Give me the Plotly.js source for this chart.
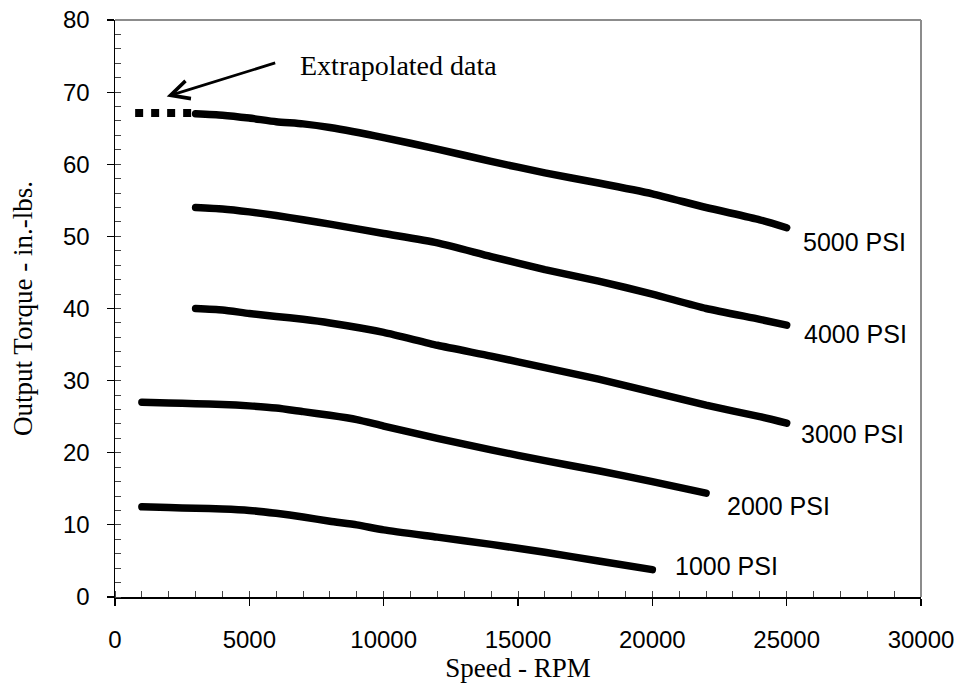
<!DOCTYPE html>
<html>
<head>
<meta charset="utf-8">
<script src="https://cdn.plot.ly/plotly-3.0.1.min.js"></script>
<style>
  html, body { margin: 0; padding: 0; background: #fff; }
  #chart { width: 963px; height: 688px; }
  .scatterlayer path.js-line { stroke-linecap: round; stroke-linejoin: round; }
  .scatterlayer .trace:last-child path.js-line { stroke-linecap: butt; }
</style>
</head>
<body>
<div id="chart"></div>
<script>
// Speed (RPM) and output torque (in.-lbs.) per supply pressure
const rpm1000 = [1000, 2000, 3000, 4000, 5000, 6000, 7000, 8000, 9000, 10000, 12000, 14000, 16000, 18000, 20000];
const torque1000 = [12.5, 12.4, 12.3, 12.2, 12.0, 11.6, 11.1, 10.5, 10.0, 9.3, 8.3, 7.3, 6.2, 5.0, 3.8];

const rpm2000 = [1000, 2000, 3000, 4000, 5000, 6000, 7000, 8000, 9000, 10000, 12000, 14000, 16000, 18000, 20000, 22000];
const torque2000 = [27.0, 26.9, 26.8, 26.7, 26.5, 26.2, 25.7, 25.2, 24.6, 23.7, 22.0, 20.4, 18.9, 17.5, 16.0, 14.4];

const rpm3000 = [3000, 4000, 5000, 6000, 7000, 8000, 10000, 12000, 14000, 16000, 18000, 20000, 22000, 24000, 25000];
const torque3000 = [40.0, 39.8, 39.3, 38.9, 38.5, 38.0, 36.7, 34.9, 33.4, 31.8, 30.2, 28.4, 26.6, 25.0, 24.1];

const rpm4000 = [3000, 4000, 5000, 6000, 7000, 8000, 10000, 12000, 14000, 16000, 18000, 20000, 22000, 24000, 25000];
const torque4000 = [54.0, 53.8, 53.4, 52.9, 52.3, 51.7, 50.4, 49.1, 47.2, 45.4, 43.8, 42.0, 40.0, 38.5, 37.7];

const rpm5000 = [3000, 4000, 5000, 6000, 7000, 8000, 10000, 12000, 14000, 16000, 18000, 20000, 22000, 24000, 25000];
const torque5000 = [67.0, 66.8, 66.4, 65.9, 65.6, 65.1, 63.7, 62.1, 60.4, 58.8, 57.4, 55.9, 54.0, 52.3, 51.2];

// extrapolated portion of the 5000 PSI curve
const rpmExtrap = [750, 3000];
const torqueExtrap = [67.1, 67.1];

const seriesNames = ['1000 PSI', '2000 PSI', '3000 PSI', '4000 PSI', '5000 PSI'];
const xTickVals = [0, 5000, 10000, 15000, 20000, 25000, 30000];
const yTickVals = [0, 10, 20, 30, 40, 50, 60, 70, 80];

const xs = [rpm1000, rpm2000, rpm3000, rpm4000, rpm5000];
const ys = [torque1000, torque2000, torque3000, torque4000, torque5000];

const traces = xs.map((x, i) => ({
  x: x, y: ys[i], type: 'scatter', mode: 'lines', name: seriesNames[i],
  line: { color: '#000', width: 7.5, shape: 'spline', smoothing: 0.6 },
  hoverinfo: 'skip'
}));
traces.push({
  x: rpmExtrap, y: torqueExtrap, type: 'scatter', mode: 'lines', name: 'Extrapolated',
  line: { color: '#000', width: 8, dash: '8px,8px' }, hoverinfo: 'skip'
});

// label offsets (px) from each curve's end point
const labelShift = [[21, 4], [19, -13], [12, -11], [15, -9], [14, -14]];
const labelFont = { family: 'Liberation Sans, Arial, sans-serif', size: 25, color: '#000' };
const annotations = seriesNames.map((name, i) => ({
  x: xs[i][xs[i].length - 1], y: ys[i][ys[i].length - 1],
  xref: 'x', yref: 'y', text: name, showarrow: false,
  xanchor: 'left', yanchor: 'middle',
  xshift: labelShift[i][0], yshift: labelShift[i][1], font: labelFont
}));
annotations.push({
  x: 6800, y: 73.7, xref: 'x', yref: 'y', text: 'Extrapolated data', showarrow: false,
  xanchor: 'left', yanchor: 'middle',
  font: { family: 'Liberation Serif, Times New Roman, serif', size: 28, color: '#000' }
});
annotations.push({
  x: 1924, y: 69.4, xref: 'x', yref: 'y', text: '', showarrow: true,
  ax: 110, ay: -34, arrowhead: 5, arrowsize: 1.3, arrowwidth: 2.8, arrowcolor: '#000',
  standoff: 0
});

const tickFont = { family: 'Liberation Sans, Arial, sans-serif', size: 24, color: '#000' };
const titleFont = { family: 'Liberation Serif, Times New Roman, serif', size: 27, color: '#000' };

const layout = {
  width: 963, height: 688,
  margin: { l: 115, r: 42, t: 20, b: 91 },
  paper_bgcolor: '#fff', plot_bgcolor: '#fff',
  showlegend: false,
  xaxis: {
    range: [0, 30000], tickvals: xTickVals, ticktext: xTickVals.map(String),
    showgrid: false, zeroline: false, showline: true, linecolor: '#000', linewidth: 1.5,
    ticks: 'outside', ticklen: 7, tickwidth: 1.2, tickcolor: '#000',
    ticklabelstandoff: 14,
    minor: { dtick: 1000, tick0: 0, ticks: 'inside', ticklen: 6, tickwidth: 1, tickcolor: '#444', showgrid: false },
    tickfont: tickFont,
    title: { text: 'Speed - RPM', font: titleFont, standoff: 6 },
    fixedrange: true
  },
  yaxis: {
    range: [0, 80], tickvals: yTickVals, ticktext: yTickVals.map(String),
    showgrid: false, zeroline: false, showline: true, linecolor: '#000', linewidth: 1.5,
    ticks: 'outside', ticklen: 7, tickwidth: 1.2, tickcolor: '#000',
    ticklabelstandoff: 12,
    minor: { dtick: 2, tick0: 0, ticks: 'inside', ticklen: 6, tickwidth: 1, tickcolor: '#444', showgrid: false },
    tickfont: tickFont,
    title: { text: 'Output Torque - in.-lbs.', font: titleFont, standoff: 22 },
    fixedrange: true
  },
  shapes: [
    { type: 'line', xref: 'paper', yref: 'paper', x0: 0, x1: 1, y0: 1, y1: 1, line: { color: '#8c8c8c', width: 2 } },
    { type: 'line', xref: 'paper', yref: 'paper', x0: 1, x1: 1, y0: 0, y1: 1, line: { color: '#8c8c8c', width: 2 } }
  ],
  annotations: annotations
};

Plotly.newPlot('chart', traces, layout, { staticPlot: true, displayModeBar: false });
</script>
</body>
</html>
